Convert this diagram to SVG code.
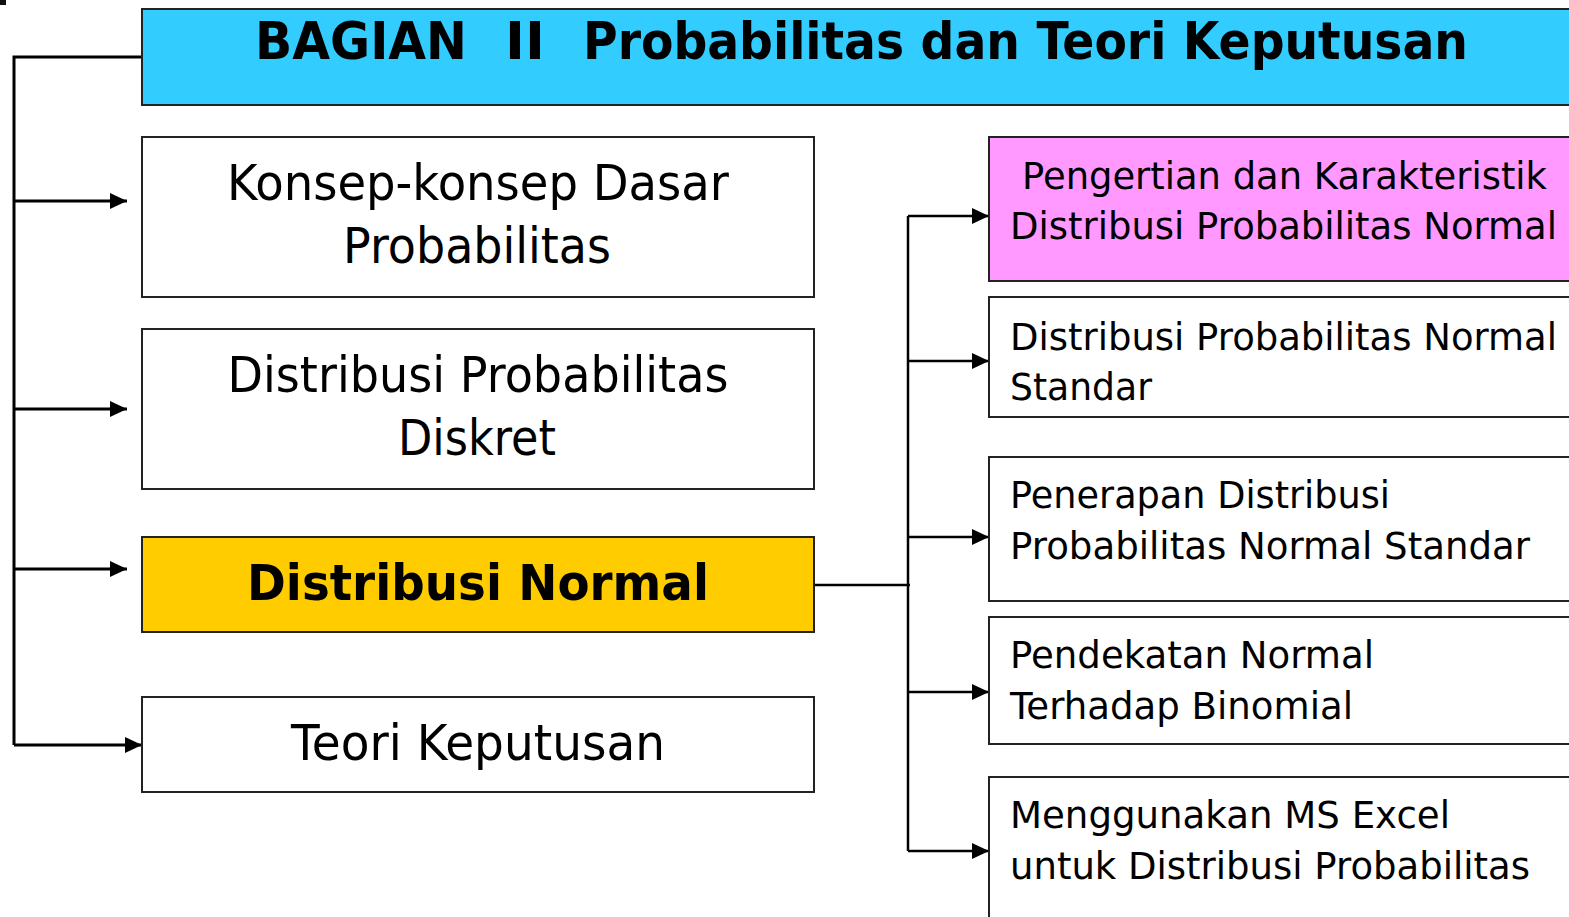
<svg xmlns="http://www.w3.org/2000/svg" width="1569" height="917" viewBox="0 0 1569 917">
<defs>
<marker id="arr" markerUnits="userSpaceOnUse" markerWidth="17" markerHeight="16" refX="17" refY="8" orient="auto">
<path d="M0,0 L17,8 L0,16 z" fill="#000"/>
</marker>
<style>
.box{stroke:#222;stroke-width:2;}
.t{font-family:"DejaVu Sans","Liberation Sans",sans-serif;fill:#000;}
.l{font-size:50px;text-anchor:middle;}
.r{font-size:37px;}
.h{font-size:52px;font-weight:bold;}
.c{fill:none;stroke:#000;stroke-width:3;}
.c2{fill:none;stroke:#000;stroke-width:2.5;}
</style>
</defs>
<rect x="0" y="0" width="6" height="5" fill="#111"/>
<g id="connectors">
<path class="c" d="M142,57 H14 V745"/>
<path class="c" d="M14,201 H127" marker-end="url(#arr)"/>
<path class="c" d="M14,409 H127" marker-end="url(#arr)"/>
<path class="c" d="M14,569 H127" marker-end="url(#arr)"/>
<path class="c" d="M14,745 H142" marker-end="url(#arr)"/>
<path class="c2" d="M814,585 H910"/>
<path class="c2" d="M908,216 V851"/>
<path class="c2" d="M908,216 H989" marker-end="url(#arr)"/>
<path class="c2" d="M908,361 H989" marker-end="url(#arr)"/>
<path class="c2" d="M908,537 H989" marker-end="url(#arr)"/>
<path class="c2" d="M908,692 H989" marker-end="url(#arr)"/>
<path class="c2" d="M908,851 H989" marker-end="url(#arr)"/>
</g>
<g id="title">
<rect class="box" x="142" y="9" width="1440" height="96" fill="#33CCFF"/>
<text class="t h" x="255" y="59" textLength="212" lengthAdjust="spacingAndGlyphs">BAGIAN</text>
<text class="t h" x="505" y="59" textLength="40" lengthAdjust="spacingAndGlyphs">II</text>
<text class="t h" x="583" y="59" textLength="885" lengthAdjust="spacingAndGlyphs">Probabilitas dan Teori Keputusan</text>
</g>
<g id="konsep">
<rect class="box" x="142" y="137" width="672" height="160" fill="#fff"/>
<text class="t l" x="478" y="200" textLength="502" lengthAdjust="spacingAndGlyphs">Konsep-konsep Dasar</text>
<text class="t l" x="477" y="263" textLength="268" lengthAdjust="spacingAndGlyphs">Probabilitas</text>
</g>
<g id="diskret">
<rect class="box" x="142" y="329" width="672" height="160" fill="#fff"/>
<text class="t l" x="478" y="392" textLength="501" lengthAdjust="spacingAndGlyphs">Distribusi Probabilitas</text>
<text class="t l" x="477" y="455" textLength="158" lengthAdjust="spacingAndGlyphs">Diskret</text>
</g>
<g id="normal">
<rect class="box" x="142" y="537" width="672" height="95" fill="#FFCC00"/>
<text class="t l" x="478" y="600" font-weight="bold" textLength="462" lengthAdjust="spacingAndGlyphs">Distribusi Normal</text>
</g>
<g id="keputusan">
<rect class="box" x="142" y="697" width="672" height="95" fill="#fff"/>
<text class="t l" x="478" y="760" textLength="374" lengthAdjust="spacingAndGlyphs">Teori Keputusan</text>
</g>
<g id="pengertian">
<rect class="box" x="989" y="137" width="600" height="144" fill="#FF99FF"/>
<text class="t r" x="1022" y="189" textLength="525" lengthAdjust="spacingAndGlyphs">Pengertian dan Karakteristik</text>
<text class="t r" x="1010" y="239" textLength="547" lengthAdjust="spacingAndGlyphs">Distribusi Probabilitas Normal</text>
</g>
<g id="standar">
<rect class="box" x="989" y="297" width="600" height="120" fill="#fff"/>
<text class="t r" x="1010" y="350" textLength="547" lengthAdjust="spacingAndGlyphs">Distribusi Probabilitas Normal</text>
<text class="t r" x="1010" y="400" textLength="142" lengthAdjust="spacingAndGlyphs">Standar</text>
</g>
<g id="penerapan">
<rect class="box" x="989" y="457" width="600" height="144" fill="#fff"/>
<text class="t r" x="1010" y="508" textLength="380" lengthAdjust="spacingAndGlyphs">Penerapan Distribusi</text>
<text class="t r" x="1010" y="559" textLength="520" lengthAdjust="spacingAndGlyphs">Probabilitas Normal Standar</text>
</g>
<g id="pendekatan">
<rect class="box" x="989" y="617" width="600" height="127" fill="#fff"/>
<text class="t r" x="1010" y="668" textLength="364" lengthAdjust="spacingAndGlyphs">Pendekatan Normal</text>
<text class="t r" x="1010" y="719" textLength="343" lengthAdjust="spacingAndGlyphs">Terhadap Binomial</text>
</g>
<g id="excel">
<rect class="box" x="989" y="777" width="600" height="160" fill="#fff"/>
<text class="t r" x="1010" y="828" textLength="440" lengthAdjust="spacingAndGlyphs">Menggunakan MS Excel</text>
<text class="t r" x="1010" y="879" textLength="520" lengthAdjust="spacingAndGlyphs">untuk Distribusi Probabilitas</text>
</g>
</svg>
